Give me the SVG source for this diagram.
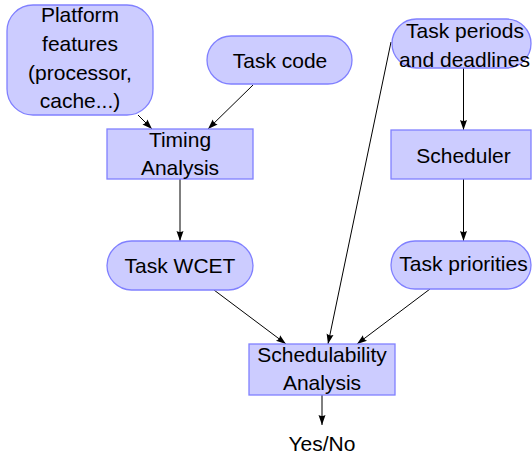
<svg xmlns="http://www.w3.org/2000/svg" width="532" height="457" viewBox="0 0 532 457">
<style>
.n{fill:#ccccff;stroke:#8080ff;stroke-width:1.3}
.t{font-family:"Liberation Sans",Arial,sans-serif;font-size:21px;fill:#000;text-anchor:middle}
.c{stroke:#000;stroke-width:1;fill:none;marker-end:url(#ah)}
</style>
<defs>
<marker id="ah" markerUnits="userSpaceOnUse" markerWidth="11" markerHeight="9" refX="10" refY="4.5" orient="auto">
<path d="M0,1 L10,4.5 L0,8 Q2.2,4.5 0,1 Z" fill="#000"/>
</marker>
</defs>
<rect width="532" height="457" fill="#fff"/>
<g id="connectors">
<line class="c" x1="138" y1="115" x2="152" y2="129"/>
<line class="c" x1="253" y1="85" x2="208" y2="129"/>
<line class="c" x1="180" y1="179" x2="180" y2="241"/>
<line class="c" x1="391" y1="42" x2="328" y2="344"/>
<line class="c" x1="463.5" y1="68" x2="463.5" y2="130"/>
<line class="c" x1="463.5" y1="179" x2="463.5" y2="241"/>
<line class="c" x1="214" y1="290" x2="286" y2="344"/>
<line class="c" x1="430" y1="289" x2="357" y2="344"/>
<line class="c" x1="322" y1="395" x2="322" y2="425"/>
</g>
<g id="platform">
<rect class="n" x="7" y="5" width="146" height="110" rx="26" ry="26"/>
<text class="t" x="80" y="22">Platform</text>
<text class="t" x="80" y="51">features</text>
<text class="t" x="80" y="79.5">(processor,</text>
<text class="t" x="80" y="108">cache...)</text>
</g>
<g id="taskcode">
<rect class="n" x="207" y="36" width="145" height="48" rx="24" ry="24"/>
<text class="t" x="280" y="68">Task code</text>
</g>
<g id="timing">
<rect class="n" x="107" y="129" width="146" height="50"/>
<text class="t" x="180" y="147">Timing</text>
<text class="t" x="180" y="175">Analysis</text>
</g>
<g id="periods">
<rect class="n" x="392" y="19" width="139" height="49" rx="24.5" ry="24.5"/>
<text class="t" x="465" y="38">Task periods</text>
<text class="t" x="464.5" y="67">and deadlines</text>
</g>
<g id="scheduler">
<rect class="n" x="391" y="130" width="140" height="49"/>
<text class="t" x="463.5" y="163">Scheduler</text>
</g>
<g id="wcet">
<rect class="n" x="107" y="241" width="146" height="49" rx="24.5" ry="24.5"/>
<text class="t" x="180" y="273">Task WCET</text>
</g>
<g id="priorities">
<rect class="n" x="391" y="241" width="140" height="48" rx="24" ry="24"/>
<text class="t" x="463.5" y="271">Task priorities</text>
</g>
<g id="schedulability">
<rect class="n" x="249" y="344" width="146" height="51"/>
<text class="t" x="322" y="362">Schedulability</text>
<text class="t" x="322" y="389.5">Analysis</text>
</g>
<g id="yesno">
<text class="t" x="322" y="451">Yes/No</text>
</g>
</svg>
